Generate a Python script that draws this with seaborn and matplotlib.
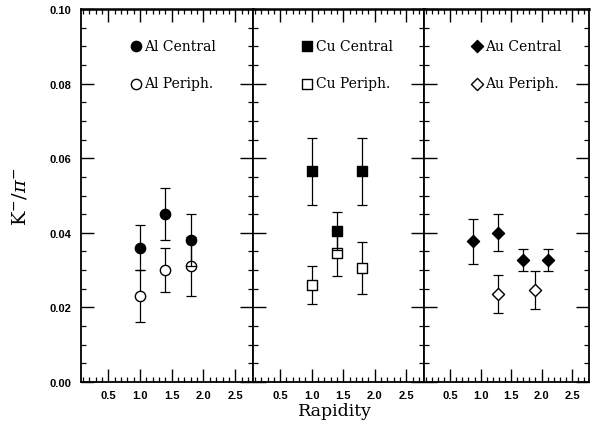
import matplotlib
matplotlib.use("Agg")
import matplotlib.pyplot as plt
import seaborn as sns
from matplotlib.ticker import MultipleLocator, FixedLocator, FixedFormatter

# ---- data ----
al_c_x = [1.0, 1.4, 1.8]
al_c_y = [0.036, 0.045, 0.038]
al_c_e = [0.006, 0.007, 0.007]
al_p_x = [1.0, 1.4, 1.8]
al_p_y = [0.023, 0.030, 0.031]
al_p_e = [0.007, 0.006, 0.008]

cu_c_x = [1.0, 1.4, 1.8]
cu_c_y = [0.0565, 0.0405, 0.0565]
cu_c_e = [0.009, 0.005, 0.009]
cu_p_x = [1.0, 1.4, 1.8]
cu_p_y = [0.026, 0.0345, 0.0305]
cu_p_e = [0.005, 0.006, 0.007]

au_c_x = [0.88, 1.28, 1.69, 2.10]
au_c_y = [0.0377, 0.0400, 0.0327, 0.0327]
au_c_e = [0.006, 0.005, 0.003, 0.003]
au_p_x = [1.28, 1.90]
au_p_y = [0.0236, 0.0247]
au_p_e = [0.005, 0.005]

x_tick_vals = [0.5, 1.0, 1.5, 2.0, 2.5]
x_tick_labels = ["0.5", "1.0", "1.5", "2.0", "2.5"]
y_tick_vals = [0.00, 0.02, 0.04, 0.06, 0.08, 0.10]
y_tick_labels = ["0.00", "0.02", "0.04", "0.06", "0.08", "0.10"]

panels = [
    dict(name="Al", marker="o", s=55,
         c=(al_c_x, al_c_y, al_c_e), p=(al_p_x, al_p_y, al_p_e)),
    dict(name="Cu", marker="s", s=55,
         c=(cu_c_x, cu_c_y, cu_c_e), p=(cu_p_x, cu_p_y, cu_p_e)),
    dict(name="Au", marker="D", s=38,
         c=(au_c_x, au_c_y, au_c_e), p=(au_p_x, au_p_y, au_p_e)),
]

sns.set_style("ticks")
plt.rcParams["font.family"] = ["DejaVu Serif"]
plt.rcParams["mathtext.fontset"] = "dejavuserif"
plt.rcParams["text.color"] = "black"
plt.rcParams["axes.labelcolor"] = "black"
plt.rcParams["xtick.labelcolor"] = "black"
plt.rcParams["ytick.labelcolor"] = "black"

W, H = 592, 427
fig = plt.figure(figsize=(W / 100, H / 100), dpi=100)
fig.patch.set_facecolor("white")

px_left = [81, 253, 424]
px_right = [253, 424, 589]
top_px, bot_px = 10, 383

for i, pan in enumerate(panels):
    l, r = px_left[i], px_right[i]
    ax = fig.add_axes([l / W, 1 - bot_px / H, (r - l) / W, (bot_px - top_px) / H])
    ax.set_facecolor("white")
    ax.set_xlim(0.07, 2.78)
    ax.set_ylim(0.0, 0.10)

    px, py, pe = pan["p"]
    cx, cy, ce = pan["c"]
    # peripheral first (open markers)
    ax.errorbar(px, py, yerr=pe, fmt="none", ecolor="black", elinewidth=0.9,
                capsize=3.3, capthick=0.9, zorder=2)
    sns.scatterplot(x=px, y=py, marker=pan["marker"], s=pan["s"], color="white",
                    edgecolor="black", linewidth=1.0, ax=ax, zorder=3,
                    label=f"{pan['name']} Periph.")
    # central (filled markers)
    ax.errorbar(cx, cy, yerr=ce, fmt="none", ecolor="black", elinewidth=0.9,
                capsize=3.3, capthick=0.9, zorder=4)
    sns.scatterplot(x=cx, y=cy, marker=pan["marker"], s=pan["s"], color="black",
                    edgecolor="black", linewidth=1.0, ax=ax, zorder=5,
                    label=f"{pan['name']} Central")

    handles, labels = ax.get_legend_handles_labels()
    order = [1, 0]
    ax.legend([handles[k] for k in order], [labels[k] for k in order],
              loc="upper left", bbox_to_anchor=(0.29, 0.92),
              frameon=False, handlelength=0.7, handletextpad=0.25,
              borderpad=0, borderaxespad=0, labelspacing=1.7,
              prop=dict(family="DejaVu Serif", size=10))

    # ticks
    ax.xaxis.set_major_locator(FixedLocator(x_tick_vals))
    ax.xaxis.set_minor_locator(MultipleLocator(0.1))
    ax.yaxis.set_major_locator(FixedLocator(y_tick_vals))
    ax.yaxis.set_minor_locator(MultipleLocator(0.005))
    ax.tick_params(which="both", direction="in", top=True, right=True,
                   bottom=True, left=True, color="black", labelcolor="black")
    ax.tick_params(which="major", length=9.5, width=1.0)
    ax.tick_params(which="minor", length=3.5, width=0.9)
    ax.tick_params(axis="x", which="major", pad=6)
    ax.xaxis.set_major_formatter(FixedFormatter(x_tick_labels))
    for lab in ax.get_xticklabels():
        lab.set_fontfamily("Liberation Sans")
        lab.set_fontweight("bold")
        lab.set_fontsize(8)
    if i == 0:
        ax.yaxis.set_major_formatter(FixedFormatter(y_tick_labels))
        ax.tick_params(axis="y", which="major", pad=7)
        for lab in ax.get_yticklabels():
            lab.set_fontfamily("Liberation Sans")
            lab.set_fontweight("bold")
            lab.set_fontsize(8)
        ax.set_ylabel(r"K$^{-}$/$\pi^{-}$", fontsize=14, family="DejaVu Serif",
                      labelpad=14, color="black")
    else:
        ax.set_yticklabels([])
    ax.set_xlabel("")
    for sp in ax.spines.values():
        sp.set_visible(True)
        sp.set_linewidth(1.3)
        sp.set_color("black")
    ax.spines["top"].set_linewidth(1.8)

fig.text(335 / W, 1 - 412 / H, "Rapidity", ha="center", va="center",
         fontsize=12.5, family="DejaVu Serif", color="black")

fig.savefig("out.png", dpi=100, facecolor="white")
